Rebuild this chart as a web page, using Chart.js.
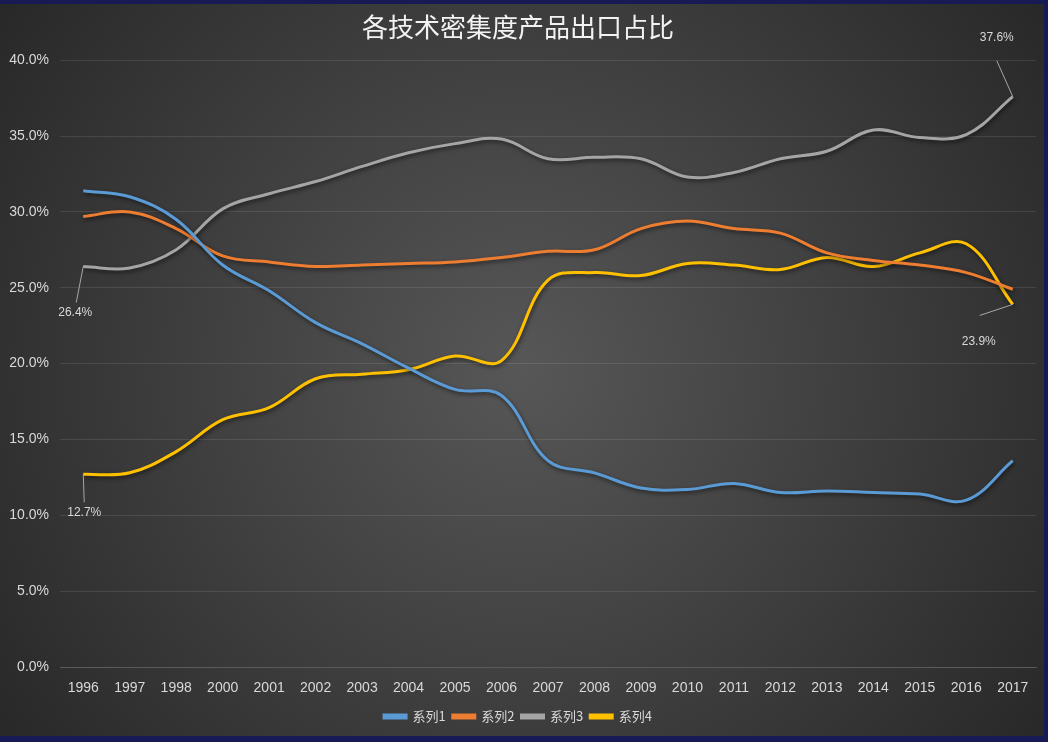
<!DOCTYPE html>
<html>
<head>
<meta charset="utf-8">
<script src="https://cdn.jsdelivr.net/npm/chart.js@4"></script>
<style>
  html, body { margin: 0; padding: 0; background: #181a55; }
  #wrap { position: absolute; left: 0; top: 4px; width: 1044px; height: 732px; }
</style>
</head>
<body>
<div id="wrap"><canvas id="chart"></canvas></div>
<script>
const years = ['1996', '1997', '1998', '2000', '2001', '2002', '2003', '2004', '2005', '2006', '2007',
  '2008', '2009', '2010', '2011', '2012', '2013', '2014', '2015', '2016', '2017'];
const series1 = [31.4, 31.0, 29.5, 26.5, 24.8, 22.7, 21.3, 19.7, 18.3, 17.9, 13.6,
  12.8, 11.8, 11.7, 12.1, 11.5, 11.6, 11.5, 11.4, 11.0, 13.6];
const series2 = [29.7, 30.0, 28.9, 27.1, 26.7, 26.4, 26.5, 26.6, 26.7, 27.0, 27.4,
  27.5, 28.9, 29.4, 28.9, 28.6, 27.3, 26.8, 26.5, 26.0, 24.9];
const series3 = [26.4, 26.3, 27.5, 30.2, 31.2, 32.0, 33.0, 33.9, 34.5, 34.8, 33.5,
  33.6, 33.5, 32.3, 32.6, 33.5, 34.0, 35.4, 34.9, 35.1, 37.6];
const series4 = [12.7, 12.8, 14.2, 16.3, 17.1, 19.0, 19.3, 19.6, 20.5, 20.2, 25.5,
  26.0, 25.8, 26.6, 26.5, 26.2, 27.0, 26.4, 27.3, 27.9, 23.9];
const seriesNames = ['系列1', '系列2', '系列3', '系列4'];
const colors = ['#5b9bd5', '#ed7d31', '#a5a5a5', '#ffc000'];

// callouts: dataset, point index, label offset and leader end offset
const callouts = [
  { ds: 2, i: 0, lx: -8, ly: 46, ex: -7, ey: 36 },
  { ds: 3, i: 0, lx: 1, ly: 38, ex: 1, ey: 28 },
  { ds: 2, i: 20, lx: -16, ly: -59, ex: -16, ey: -36 },
  { ds: 3, i: 20, lx: -34, ly: 37, ex: -33, ey: 11 }
];

const bgPlugin = {
  id: 'bg',
  beforeDraw(chart) {
    const ctx = chart.ctx;
    const w = chart.width, h = chart.height;
    const g = ctx.createRadialGradient(w / 2, h / 2, 0, w / 2, h / 2, 640);
    g.addColorStop(0, '#575757');
    g.addColorStop(1, '#282828');
    ctx.save();
    ctx.fillStyle = g;
    ctx.fillRect(0, 0, w, h);
    ctx.restore();
  }
};

const shadowPlugin = {
  id: 'shadow',
  beforeDatasetDraw(chart) {
    const ctx = chart.ctx;
    ctx.save();
    ctx.shadowColor = 'rgba(0,0,0,0.55)';
    ctx.shadowBlur = 4;
    ctx.shadowOffsetX = 1;
    ctx.shadowOffsetY = 2;
  },
  afterDatasetDraw(chart) {
    chart.ctx.restore();
  }
};

const calloutPlugin = {
  id: 'callouts',
  afterDatasetsDraw(chart) {
    const ctx = chart.ctx;
    ctx.save();
    callouts.forEach(c => {
      const pt = chart.getDatasetMeta(c.ds).data[c.i];
      const v = chart.data.datasets[c.ds].data[c.i];
      ctx.strokeStyle = '#a6a6a6';
      ctx.lineWidth = 1;
      ctx.beginPath();
      ctx.moveTo(pt.x, pt.y);
      ctx.lineTo(pt.x + c.ex, pt.y + c.ey);
      ctx.stroke();
      ctx.fillStyle = '#d9d9d9';
      ctx.font = '12px "Liberation Sans", Arial, sans-serif';
      ctx.textAlign = 'center';
      ctx.textBaseline = 'middle';
      ctx.fillText(v.toFixed(1) + '%', pt.x + c.lx, pt.y + c.ly);
    });
    ctx.restore();
  }
};

const allSeries = [series1, series2, series3, series4];
const datasets = allSeries.map((s, k) => ({
  label: seriesNames[k],
  data: s,
  borderColor: colors[k],
  backgroundColor: colors[k],
  borderWidth: 3,
  pointRadius: 0,
  tension: 0.38,
  fill: false
}));

new Chart(document.getElementById('chart'), {
  type: 'line',
  data: { labels: years, datasets: datasets },
  plugins: [bgPlugin, shadowPlugin, calloutPlugin],
  options: {
    responsive: true,
    maintainAspectRatio: false,
    animation: false,
    layout: { padding: { left: 0, right: 8, top: 0, bottom: 3 } },
    plugins: {
      title: {
        display: true,
        text: '各技术密集度产品出口占比',
        color: '#f2f2f2',
        font: { size: 26, family: '"Noto Sans CJK SC", sans-serif', weight: 'normal' },
        padding: { top: 8, bottom: 17 }
      },
      legend: {
        position: 'bottom',
        labels: {
          color: '#d9d9d9',
          font: { size: 13, family: '"Noto Sans CJK SC", "Liberation Sans", sans-serif' },
          boxWidth: 22,
          boxHeight: 3,
          padding: 7
        }
      },
      tooltip: { enabled: false }
    },
    scales: {
      x: {
        offset: true,
        afterFit(s) { s.height = 36; },
        grid: { display: false, drawTicks: false },
        border: { color: '#5a5a5a', width: 1 },
        ticks: {
          color: '#d9d9d9',
          font: { size: 14, family: '"Liberation Sans", Arial, sans-serif' },
          padding: 13,
          maxRotation: 0,
          autoSkip: false
        }
      },
      y: {
        min: 0,
        max: 40,
        afterFit(s) { s.width = 60; },
        grid: { color: 'rgba(255,255,255,0.1)', drawTicks: false },
        border: { display: false },
        ticks: {
          stepSize: 5,
          color: '#d9d9d9',
          font: { size: 14, family: '"Liberation Sans", Arial, sans-serif' },
          padding: 11,
          callback: v => v.toFixed(1) + '%'
        }
      }
    }
  }
});
</script>
</body>
</html>
